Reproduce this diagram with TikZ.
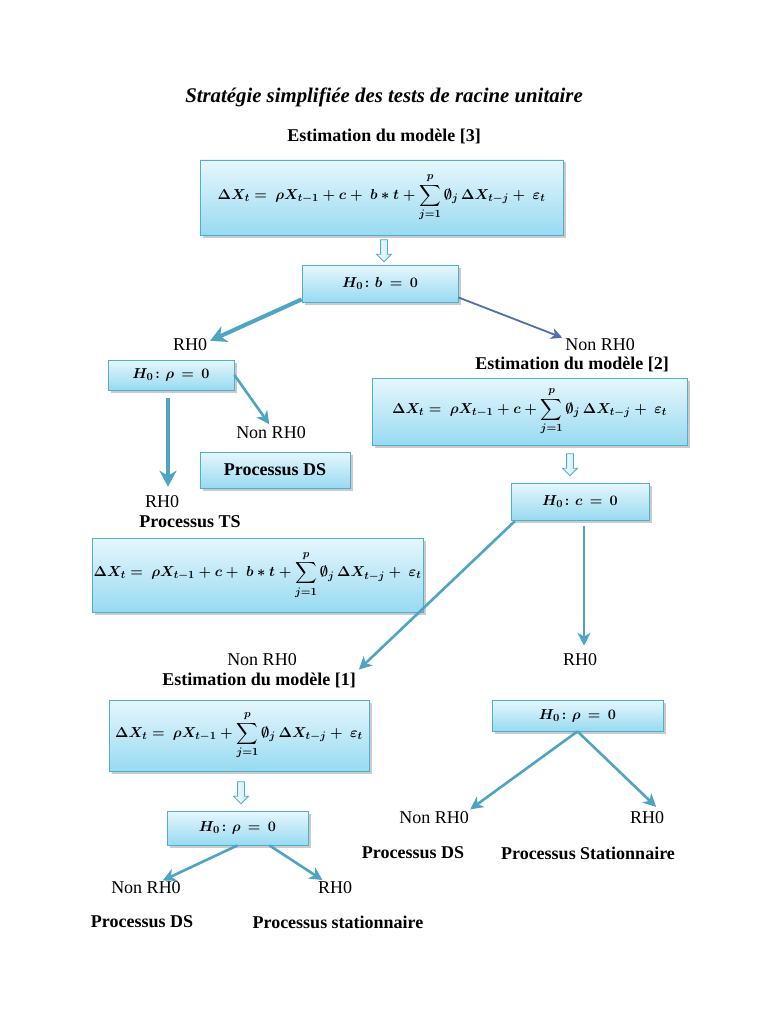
\documentclass[tikz,border=0pt]{standalone}
\usepackage{amsmath,amssymb}
\usepackage{fontspec}
\setmainfont{Liberation Serif}
\usetikzlibrary{arrows.meta,shadows,shapes.arrows,calc}
\definecolor{boxtop}{HTML}{E6F7FD}
\definecolor{boxbot}{HTML}{98DAF1}
\definecolor{boxline}{HTML}{4FAFCB}
\definecolor{arrc}{HTML}{4DA5C3}
\definecolor{arrd}{HTML}{4F6FB0}
\begin{document}
\begin{tikzpicture}[x=1pt,y=-1pt,
  box/.style={draw=boxline, line width=0.8pt, top color=boxtop, bottom color=boxbot,
    drop shadow={shadow xshift=2.5pt, shadow yshift=-2.5pt, fill=black!45, opacity=0.45},
    inner sep=0pt, align=center},
  lab/.style={inner sep=0pt, font=\fontsize{18}{21}\selectfont},
  blab/.style={inner sep=0pt, font=\fontsize{18}{21}\selectfont\bfseries},
  mth/.style={font=\fontsize{15}{18}\selectfont},
  conn/.style={draw=arrc, line width=2.6pt, -{Stealth[length=13pt,width=13pt,inset=4pt]}},
  thick conn/.style={draw=arrc, line width=4pt, -{Stealth[length=16pt,width=17pt,inset=5pt]}},
  hollow/.style={single arrow, draw=boxline, top color=white, bottom color=boxbot!60, shading angle=90, line width=0.8pt, rotate=-90,
    minimum height=22pt, single arrow head extend=4pt,
    single arrow tip angle=90, inner xsep=0pt, inner ysep=3pt}
]
\useasboundingbox[fill=white] (0,0) rectangle (768,1024);

% title
\node[inner sep=0pt, font=\fontsize{20.8}{24}\selectfont\bfseries\itshape] (title) at (384,97) {Stratégie simplifiée des tests de racine unitaire};

% model 3
\node[blab] (est3) at (384,136) {Estimation du modèle [3]};
\node[box, minimum width=363pt, minimum height=75pt, mth] (m3) at (381.5,197.5)
  {$\displaystyle\boldsymbol{\Delta X_t =\ \rho X_{t-1} + c +\ b*t + \sum_{j=1}^{p}\emptyset_j\,\Delta X_{t-j} +\ \varepsilon_t}$};
\node[hollow] (ha1) at (384,249) {};
\node[box, minimum width=156pt, minimum height=37pt, mth] (hb) at (380,283.5)
  {$\boldsymbol{H_0\colon b\,=\,0}$};

% left branch
\node[lab] (rh0a) at (190,345) {RH0};
\node[lab] (nrh0a) at (600,345) {Non RH0};
\draw[thick conn] ([yshift=3pt]hb.south west) -- ([xshift=3pt,yshift=-2pt]rh0a.north east);
\draw[conn, draw=arrd, line width=1.8pt, -{Stealth[length=11pt,width=11pt,inset=3pt]}, shorten >=3pt] ([yshift=5pt]hb.south east) -- (nrh0a.north west);

\node[box, minimum width=126pt, minimum height=30pt, mth] (hr1) at (171,375)
  {$\boldsymbol{H_0\colon \rho\,=\,0}$};
\node[lab] (nrh0b) at (271,433) {Non RH0};
\draw[conn, shorten >=3pt] (hr1.east) -- (nrh0b.north);
\node[box, minimum width=150pt, minimum height=36pt, blab] (ds1) at (275,470) {Processus DS};
\node[lab] (rh0b) at (162,502) {RH0};
\draw[thick conn, shorten <=8pt, shorten >=9pt] ([xshift=-3pt]hr1.south) -- ([xshift=-3pt]hr1.south |- rh0b.north);
\node[blab] (ts) at (190,522) {Processus TS};
\node[box, minimum width=331pt, minimum height=74pt, mth] (mts) at (257.5,575)
  {$\displaystyle\boldsymbol{\Delta X_t =\ \rho X_{t-1} + c +\ b*t + \sum_{j=1}^{p}\emptyset_j\,\Delta X_{t-j} +\ \varepsilon_t}$};

% right branch
\node[blab] (est2) at (572,364) {Estimation du modèle [2]};
\node[box, minimum width=315pt, minimum height=67pt, mth] (m2) at (529.5,411.5)
  {$\displaystyle\boldsymbol{\Delta X_t =\ \rho X_{t-1} + c + \sum_{j=1}^{p}\emptyset_j\,\Delta X_{t-j} +\ \varepsilon_t}$};
\node[hollow] (ha2) at (570,463) {};
\node[box, minimum width=138pt, minimum height=37pt, mth] (hc) at (580,501.5)
  {$\boldsymbol{H_0\colon c\,=\,0}$};
\node[lab] (nrh0c) at (262,660) {Non RH0};
\node[lab] (rh0c) at (580,660) {RH0};
\node[blab] (est1) at (259,680) {Estimation du modèle [1]};
\draw[conn, shorten <=1pt, shorten >=4pt] ([xshift=5pt]hc.south west) -- (est1.north east);
\draw[conn, shorten <=6pt, shorten >=8pt] ([xshift=4pt]hc.south) -- ([xshift=4pt]hc.south |- rh0c.north);

% model 1
\node[box, minimum width=260pt, minimum height=71pt, mth] (m1) at (239,735.5)
  {$\displaystyle\boldsymbol{\Delta X_t =\ \rho X_{t-1} + \sum_{j=1}^{p}\emptyset_j\,\Delta X_{t-j} +\ \varepsilon_t}$};
\node[hollow] (ha3) at (241,791) {};
\node[box, minimum width=141pt, minimum height=34pt, mth] (hr3) at (237.5,828)
  {$\boldsymbol{H_0\colon \rho\,=\,0}$};
\node[lab] (nrh0d) at (146,888) {Non RH0};
\node[lab] (rh0d) at (335,888) {RH0};
\draw[conn, shorten >=3pt] (hr3.south) -- ([xshift=14pt]nrh0d.north);
\draw[conn, shorten >=3pt] ([xshift=32pt]hr3.south) -- ([xshift=-10pt]rh0d.north);
\node[blab] (ds3) at (142,922) {Processus DS};
\node[blab] (st3) at (338,922) {Processus stationnaire};

% right bottom
\node[box, minimum width=171pt, minimum height=31pt, mth] (hr4) at (577.5,715.5)
  {$\boldsymbol{H_0\colon \rho\,=\,0}$};
\node[lab] (nrh0e) at (434,818) {Non RH0};
\node[lab] (rh0e) at (647,818) {RH0};
\draw[conn, shorten >=4pt] (hr4.south) -- ([xshift=-2pt]nrh0e.north east);
\draw[conn, shorten >=7pt] (hr4.south) -- ([xshift=-3pt]rh0e.north east);
\node[blab] (ds4) at (413,853) {Processus DS};
\node[blab] (st4) at (588,853) {Processus Stationnaire};
\end{tikzpicture}
\end{document}
